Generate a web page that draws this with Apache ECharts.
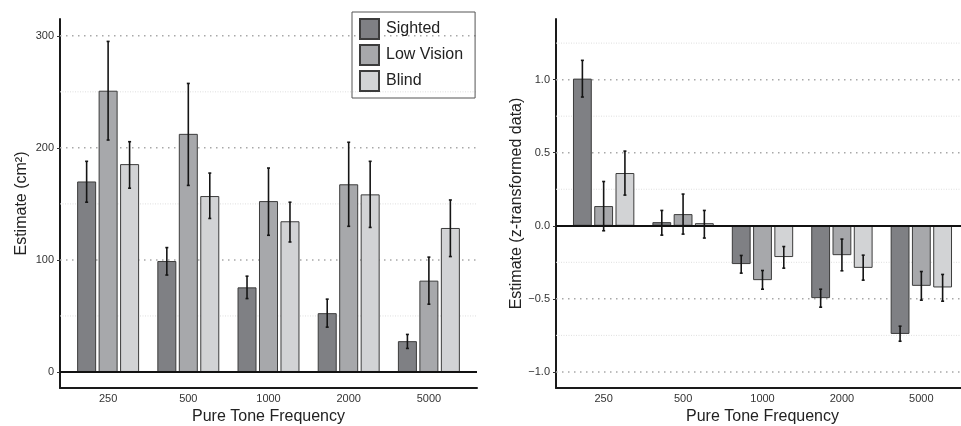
<!DOCTYPE html>
<html lang="en">
<head>
    <meta charset="UTF-8">
    <title>Pure Tone Frequency</title>
    <script src="https://cdn.jsdelivr.net/npm/echarts@6/dist/echarts.min.js"></script>
    <style>
        html, body { margin: 0; padding: 0; background: #fff; }
        #main { width: 961px; height: 426px; }
    </style>
</head>
<body>
<div id="main"></div>
<script>
    // categories
    var freqs = ['250', '500', '1000', '2000', '5000'];
    var groups = ['Sighted', 'Low Vision', 'Blind'];
    var colors = ['#7f8084', '#a7a8ab', '#d2d3d5'];

    // left panel: estimate (cm2), mean and [lo, hi]
    var areaSighted = [170, 99, 75.5, 52.5, 27.5];
    var areaSightedCI = [[151.5, 188], [86.5, 111], [65.5, 85.5], [40, 65], [21, 33.5]];
    var areaLowVision = [251, 212.5, 152.5, 167.5, 81.5];
    var areaLowVisionCI = [[207, 295], [166.5, 257.5], [122, 182], [130, 205], [60.5, 102.5]];
    var areaBlind = [185.5, 157, 134.5, 158.5, 128.5];
    var areaBlindCI = [[164, 205.5], [137, 177.5], [116, 151.5], [129, 188], [103, 153.5]];

    // right panel: z-transformed estimate
    var zSighted = [1.007, 0.025, -0.262, -0.495, -0.740];
    var zSightedCI = [[0.881, 1.132], [-0.064, 0.105], [-0.324, -0.203], [-0.557, -0.434], [-0.79, -0.687]];
    var zLowVision = [0.135, 0.080, -0.372, -0.201, -0.411];
    var zLowVisionCI = [[-0.034, 0.303], [-0.057, 0.217], [-0.434, -0.306], [-0.308, -0.091], [-0.509, -0.313]];
    var zBlind = [0.361, 0.018, -0.214, -0.288, -0.422];
    var zBlindCI = [[0.21, 0.511], [-0.084, 0.105], [-0.29, -0.142], [-0.372, -0.201], [-0.516, -0.333]];

    // tick labels / grid lines
    var areaTicks = [0, 100, 200, 300];
    var areaMajor = [100, 200, 300];
    var areaMinor = [50, 150, 250];
    var zTicks = [-1, -0.5, 0, 0.5, 1];
    var zMajor = [-1, -0.5, 0.5, 1];
    var zMinor = [-0.75, -0.25, 0.25, 0.75, 1.25];

    var FONT = '"Liberation Sans", Arial, sans-serif';
    var BAR_W = 0.237;     // bar width in category units
    var BAR_GAP = 0.13;    // gap as share of bar width
    var STEP = BAR_W * (1 + BAR_GAP);

    function barSeries(name, k, vals, axis) {
        var s = {
            name: name,
            type: 'bar',
            xAxisIndex: axis,
            yAxisIndex: axis,
            barWidth: (BAR_W * 100) + '%',
            barGap: (BAR_GAP * 100) + '%',
            z: 2,
            itemStyle: {color: colors[k], borderColor: '#3c3c3c', borderWidth: 1},
            data: vals.map(function (v, i) { return [i + 1, v]; })
        };
        if (k === 0) {
            s.markLine = {
                silent: true,
                symbol: 'none',
                label: {show: false},
                animation: false,
                lineStyle: {color: '#111', width: 2, type: 'solid'},
                data: [{yAxis: 0}]
            };
        }
        return s;
    }

    function errorSeries(name, k, ci, axis) {
        return {
            name: name,
            type: 'custom',
            xAxisIndex: axis,
            yAxisIndex: axis,
            z: 6,
            silent: true,
            data: ci.map(function (d, i) { return [i + 1, d[0], d[1]]; }),
            encode: {x: 0, y: [1, 2]},
            renderItem: function (params, api) {
                var unit = api.size([1, 0])[0];
                var lo = api.coord([api.value(0), api.value(1)]);
                var hi = api.coord([api.value(0), api.value(2)]);
                var cx = lo[0] + (k - 1) * STEP * unit;
                var cap = 1.5;
                function seg(x1, y1, x2, y2) {
                    return {type: 'line', shape: {x1: x1, y1: y1, x2: x2, y2: y2},
                        style: {stroke: '#151515', lineWidth: 1.6}};
                }
                return {type: 'group', children: [
                    seg(cx, lo[1], cx, hi[1]),
                    seg(cx - cap, lo[1], cx + cap, lo[1]),
                    seg(cx - cap, hi[1], cx + cap, hi[1])
                ]};
            }
        };
    }

    function gridSeries(vals, axis, major) {
        return {
            type: 'custom',
            xAxisIndex: axis,
            yAxisIndex: axis,
            z: 1,
            silent: true,
            data: vals.map(function (v) { return [1, v]; }),
            encode: {x: 0, y: 1},
            renderItem: function (params, api) {
                var cs = params.coordSys;
                var p = api.coord([1, api.value(1)]);
                return {
                    type: 'line',
                    shape: {x1: cs.x, y1: p[1], x2: cs.x + cs.width, y2: p[1]},
                    style: major
                        ? {stroke: '#a8a8a8', lineWidth: 1.5, lineDash: [1.5, 4.5]}
                        : {stroke: '#dedede', lineWidth: 1, lineDash: [1, 1.5]}
                };
            }
        };
    }

    function xAxis(grid) {
        return {
            type: 'value',
            gridIndex: grid,
            min: 0.4,
            max: 5.6,
            name: 'Pure Tone Frequency',
            nameLocation: 'middle',
            nameGap: 19,
            nameTextStyle: {fontFamily: FONT, fontSize: 16, color: '#222'},
            axisLine: {onZero: false, lineStyle: {color: '#1a1a1a', width: 2}},
            axisTick: {show: false},
            splitLine: {show: false},
            axisLabel: {
                customValues: [1, 2, 3, 4, 5],
                margin: 5,
                fontFamily: FONT, fontSize: 11, color: '#333',
                formatter: function (v) { return freqs[Math.round(v) - 1]; }
            }
        };
    }

    function yAxis(grid, name, min, max, ticks, fmt) {
        return {
            type: 'value',
            gridIndex: grid,
            min: min,
            max: max,
            name: name,
            nameLocation: 'middle',
            nameGap: 30,
            nameTextStyle: {fontFamily: FONT, fontSize: 16, color: '#222'},
            axisLine: {show: true, onZero: false, lineStyle: {color: '#1a1a1a', width: 2}},
            axisTick: {show: true, customValues: ticks, length: 3, lineStyle: {color: '#333', width: 1}},
            splitLine: {show: false},
            axisLabel: {
                customValues: ticks,
                margin: 6,
                fontFamily: FONT, fontSize: 11, color: '#333',
                formatter: fmt
            }
        };
    }

    var option = {
        animation: false,
        backgroundColor: '#fff',
        grid: [
            {left: 60, top: 19, width: 417, height: 369, outerBoundsMode: 'none'},
            {left: 556, top: 19, width: 413, height: 369, outerBoundsMode: 'none'}
        ],
        legend: {
            data: groups,
            orient: 'vertical',
            left: 352,
            top: 12,
            itemWidth: 19,
            itemHeight: 20,
            itemGap: 4,
            padding: [6, 12, 6, 7],
            borderColor: '#555',
            borderWidth: 1,
            icon: 'rect',
            textStyle: {fontFamily: FONT, fontSize: 16, color: '#222', padding: [0, 0, 0, 2]}
        },
        xAxis: [xAxis(0), xAxis(1)],
        yAxis: [
            yAxis(0, 'Estimate (cm²)', -14.3, 315, areaTicks, function (v) { return String(v); }),
            yAxis(1, 'Estimate (z-transformed data)', -1.11, 1.415, zTicks, function (v) {
                return v < 0 ? '\u2212' + Math.abs(v).toFixed(1) : v.toFixed(1);
            })
        ],
        series: [
            gridSeries(areaMinor, 0, false),
            gridSeries(areaMajor, 0, true),
            gridSeries(zMinor, 1, false),
            gridSeries(zMajor, 1, true),
            barSeries(groups[0], 0, areaSighted, 0),
            barSeries(groups[1], 1, areaLowVision, 0),
            barSeries(groups[2], 2, areaBlind, 0),
            barSeries(groups[0], 0, zSighted, 1),
            barSeries(groups[1], 1, zLowVision, 1),
            barSeries(groups[2], 2, zBlind, 1),
            errorSeries(groups[0], 0, areaSightedCI, 0),
            errorSeries(groups[1], 1, areaLowVisionCI, 0),
            errorSeries(groups[2], 2, areaBlindCI, 0),
            errorSeries(groups[0], 0, zSightedCI, 1),
            errorSeries(groups[1], 1, zLowVisionCI, 1),
            errorSeries(groups[2], 2, zBlindCI, 1)
        ]
    };

    var myChart = echarts.init(document.getElementById('main'));
    myChart.setOption(option);
    window.onresize = function () {
        myChart.resize();
    };
</script>
</body>
</html>
